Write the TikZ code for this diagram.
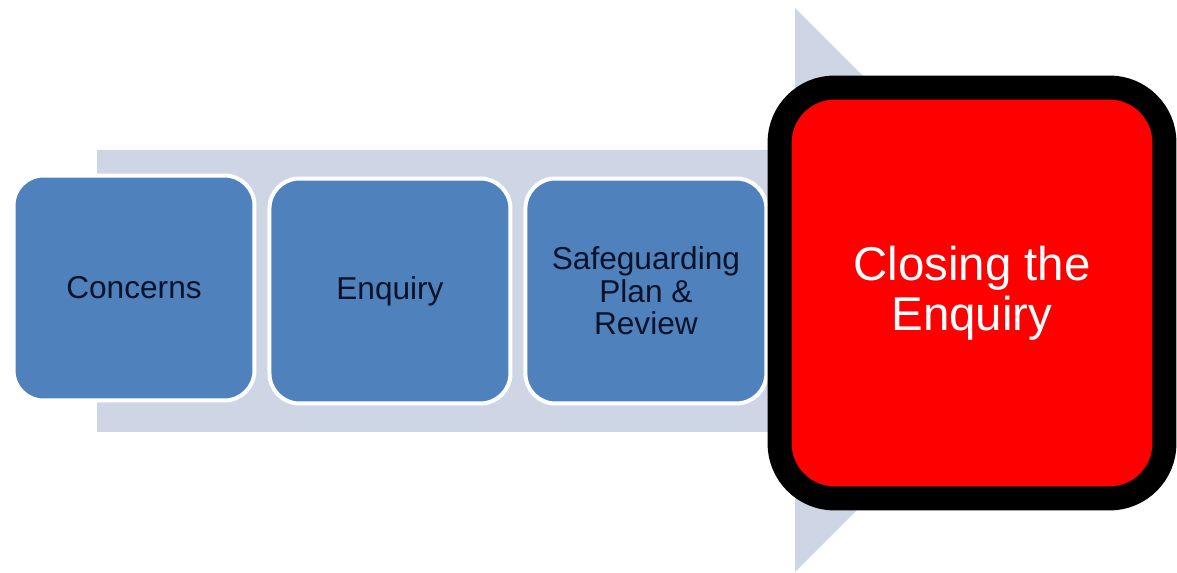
\documentclass[tikz,border=0pt]{standalone}
\usepackage{fontspec}
\setmainfont{Liberation Sans}
\usepackage{xcolor}
\usetikzlibrary{positioning}

\definecolor{shaft}{RGB}{206,214,230}
\definecolor{stepblue}{RGB}{79,129,189}
\definecolor{stepink}{RGB}{12,18,40}

\begin{document}
\begin{tikzpicture}[x=0.02cm, y=-0.02cm,
    stage/.style={draw=white, line width=0.08cm, fill=stepblue, rounded corners=0.6cm,
        minimum width=4.82cm, minimum height=4.5cm, align=center, text=stepink,
        font=\fontsize{18}{18.5}\selectfont},
    closing/.style={draw=black, line width=0.48cm, fill=red, rounded corners=1.1cm,
        minimum width=7.7cm, minimum height=8.22cm, align=center, text=white,
        font=\fontsize{27}{28.5}\selectfont}]
    \useasboundingbox (0,0) rectangle (1177,573);

    % big pale arrow behind the stages
    \fill[shaft] (97,150) -- (795,150) -- (795,8) -- (1078,290) -- (795,572)
        -- (795,432) -- (97,432) -- cycle;

    \node[stage] (concerns) at (134,288) {Concerns};
    \node[stage, right=0.22cm of concerns, yshift=-0.06cm] (enquiry) {Enquiry};
    \node[stage, right=0.22cm of enquiry] (plan) {Safeguarding\\Plan \&\\Review};

    \node[closing] (closing) at (972,293) {Closing the\\Enquiry};
\end{tikzpicture}
\end{document}
